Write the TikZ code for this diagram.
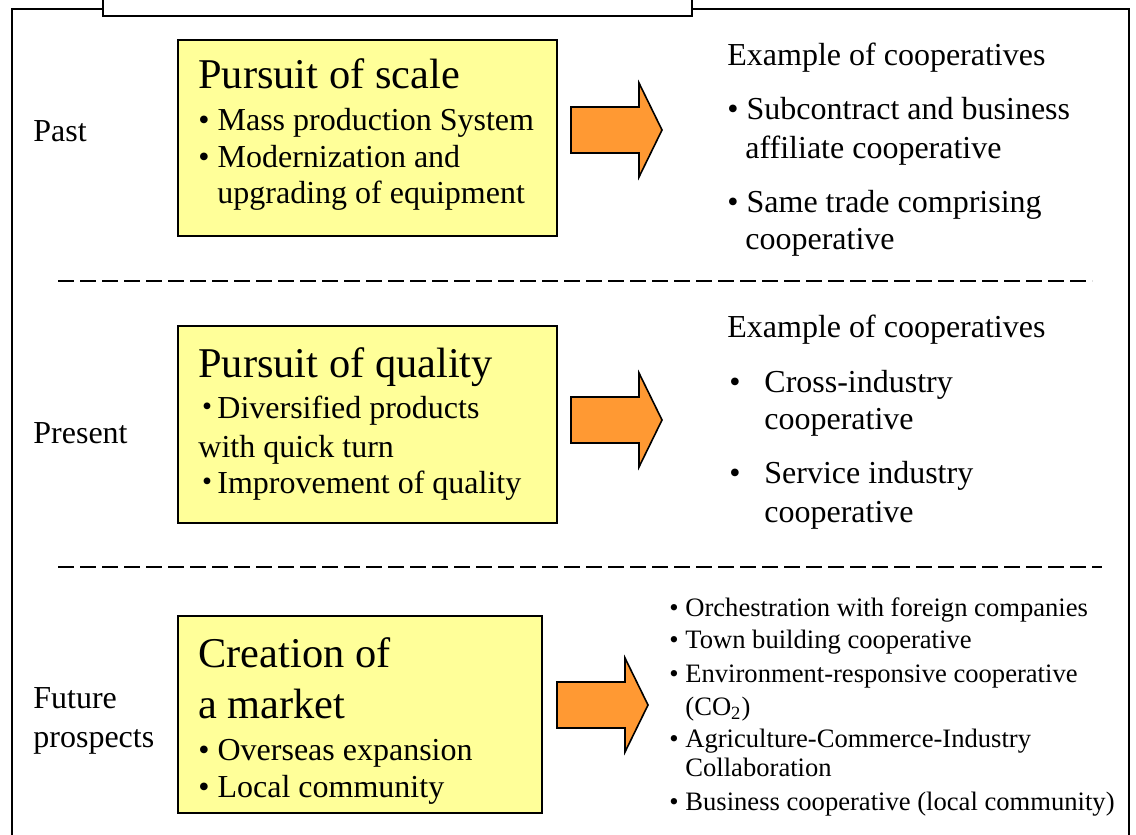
\documentclass[tikz,border=0pt]{standalone}
\usepackage{fontspec}
\setmainfont{Liberation Serif}
\newfontfamily\cjk{Noto Sans CJK JP}
\newcommand{\kdot}{\hbox to 9.5pt{\hss\cjk ・\hss}}

\definecolor{boxyellow}{RGB}{255,255,153}
\definecolor{arrorange}{RGB}{255,153,51}

\tikzset{
  txt/.style={anchor=base west, inner sep=0pt, font=\fontsize{16}{19}\selectfont},
  big/.style={anchor=base west, inner sep=0pt, font=\fontsize{21.2}{25}\selectfont},
  small/.style={anchor=base west, inner sep=0pt, font=\fontsize{13.3}{16}\selectfont},
  ybox/.style={fill=boxyellow, draw=black, line width=1pt},
  arr/.style={fill=arrorange, draw=black, line width=0.8pt, line join=miter},
  sep/.style={line width=1pt, dash pattern=on 8pt off 3pt},
  frame/.style={line width=1pt}
}

\begin{document}
\begin{tikzpicture}[x=0.5pt, y=-0.5pt]
    \clip (0,0) rectangle (1136,835);
    \fill[white] (0,0) rectangle (1136,835);
    % outer frame and title tab
    \draw[frame] (12,9) rectangle (1129,860);
    \draw[frame, fill=white] (103,-30) rectangle (692,16);
    % time labels
    \node[txt] (past) at (33,141) {Past};
    \node[txt] (present) at (33,443) {Present};
    \node[txt] (future) at (33,708) {Future};
    \node[txt] (prospects) at (33,747) {prospects};
    % separators
    \draw[sep] (58,281) -- (1092,281);
    \draw[sep] (58,567) -- (1102,567);
    % yellow boxes
    \draw[ybox] (178,40) rectangle (557,236);
    \node[big] (scale) at (198,88) {Pursuit of scale};
    \node[txt] (scale1) at (198,130) {• Mass production System};
    \node[txt] (scale2) at (198,167) {• Modernization and};
    \node[txt] (scale3) at (217,203) {upgrading of equipment};
    \draw[ybox] (178,326) rectangle (557,523);
    \node[big] (quality) at (198,377) {Pursuit of quality};
    \node[txt] (quality1) at (198,418) {\kdot Diversified products};
    \node[txt] (quality2) at (198,457) {with quick turn};
    \node[txt] (quality3) at (198,493) {\kdot Improvement of quality};
    \draw[ybox] (178,616) rectangle (542,813);
    \node[big] (market) at (198,667) {Creation of};
    \node[big] (market0) at (198,718) {a market};
    \node[txt] (market1) at (198,760) {• Overseas expansion};
    \node[txt] (market2) at (198,797) {• Local community};
    % block arrows
    \foreach \x/\y in {571/130, 571/420, 557/705}
        \draw[arr, shift={(\x,\y)}] (0,-23) -- (68,-23) -- (68,-47) -- (91,0)
            -- (68,47) -- (68,23) -- (0,23) -- cycle;
    % examples
    \node[txt] (coop1) at (727,65) {Example of cooperatives};
    \node[txt] (sub) at (727,119) {• Subcontract and business};
    \node[txt] (sub2) at (745,158) {affiliate cooperative};
    \node[txt] (same) at (727,212) {• Same trade comprising};
    \node[txt] (same2) at (745,249) {cooperative};
    \node[txt] (coop2) at (727,337) {Example of cooperatives};
    \node[txt] (bcross) at (729,392) {•};
    \node[txt] (cross) at (764,392) {Cross-industry};
    \node[txt] (cross2) at (764,429) {cooperative};
    \node[txt] (bserv) at (729,483) {•};
    \node[txt] (serv) at (764,483) {Service industry};
    \node[txt] (serv2) at (764,522) {cooperative};
    \node[small] (orch) at (669,616) {• Orchestration with foreign companies};
    \node[small] (town) at (669,648) {• Town building cooperative};
    \node[small] (env) at (669,682) {• Environment-responsive cooperative};
    \node[small] (env2) at (685,715) {(CO\textsubscript{2})};
    \node[small] (agri) at (669,747) {• Agriculture-Commerce-Industry};
    \node[small] (agri2) at (685,776) {Collaboration};
    \node[small] (busi) at (669,810) {• Business cooperative (local community)};
\end{tikzpicture}
\end{document}
